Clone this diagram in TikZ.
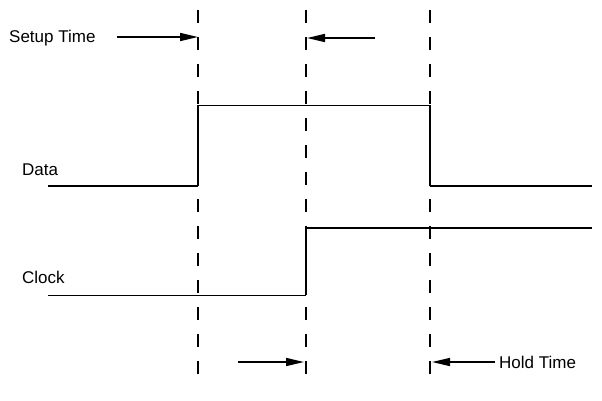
\documentclass[tikz,border=0pt]{standalone}
\usepackage{fontspec}
\setmainfont{Liberation Sans}
\usetikzlibrary{arrows.meta,positioning}

\begin{document}
\begin{tikzpicture}[x=1pt,y=-1pt,font=\fontsize{17}{19}\selectfont,
  marker/.style={dash pattern=on 13pt off 14pt,line width=1.2pt},
  thinlevel/.style={line width=1pt},
  boldlevel/.style={line width=2.3pt},
  edgeline/.style={line width=1.5pt},
  timing/.style={-{Triangle[length=18pt,width=8pt]},line width=1.6pt},
  lbl/.style={anchor=base west,inner sep=0pt}]
  \useasboundingbox (0,0) rectangle (602,400);

  % dashed edge markers
  \foreach \n/\x in {a/198,b/306,c/430}{
    \coordinate (top\n) at (\x,10);
    \coordinate (bot\n) at (\x,375);
    \draw[marker] (top\n) -- (bot\n);
  }

  % signal names
  \node[lbl] (data)  at (22,175) {Data};
  \node[lbl] (clock) at (22,283) {Clock};

  % data waveform
  \coordinate (d0) at (48,186);
  \coordinate (d1) at (198,186);
  \coordinate (d2) at (198,105);
  \coordinate (d3) at (430,105);
  \coordinate (d4) at (430,186);
  \coordinate (d5) at (592,186);
  \draw[boldlevel] (d0) -- (d1);
  \draw[edgeline] (d1) -- (d2);
  \draw[thinlevel] (d2) -- (d3);
  \draw[edgeline] (d3) -- (d4);
  \draw[boldlevel] (d4) -- (d5);

  % clock waveform
  \coordinate (c0) at (48,295);
  \coordinate (c1) at (306,295);
  \coordinate (c2) at (306,228);
  \coordinate (c3) at (592,228);
  \draw[thinlevel] (c0) -- (c1);
  \draw[edgeline] (c1) -- (c2);
  \draw[boldlevel] (c2) -- (c3);

  % setup time
  \node[lbl] (setup) at (9,42) {Setup Time};
  \coordinate (s1) at (117,37);
  \coordinate (s2) at (375,38);
  \draw[timing] (s1) -- (topa|-s1);
  \draw[timing] (s2) -- ([xshift=1pt]topb|-s2);

  % hold time
  \node[lbl] (hold) at (499,368) {Hold Time};
  \coordinate (h1) at (238,362);
  \coordinate (h2) at (495,362);
  \draw[timing] (h1) -- ([xshift=-2pt]topb|-h1);
  \draw[timing] (h2) -- ([xshift=2pt]topc|-h2);
\end{tikzpicture}
\end{document}
